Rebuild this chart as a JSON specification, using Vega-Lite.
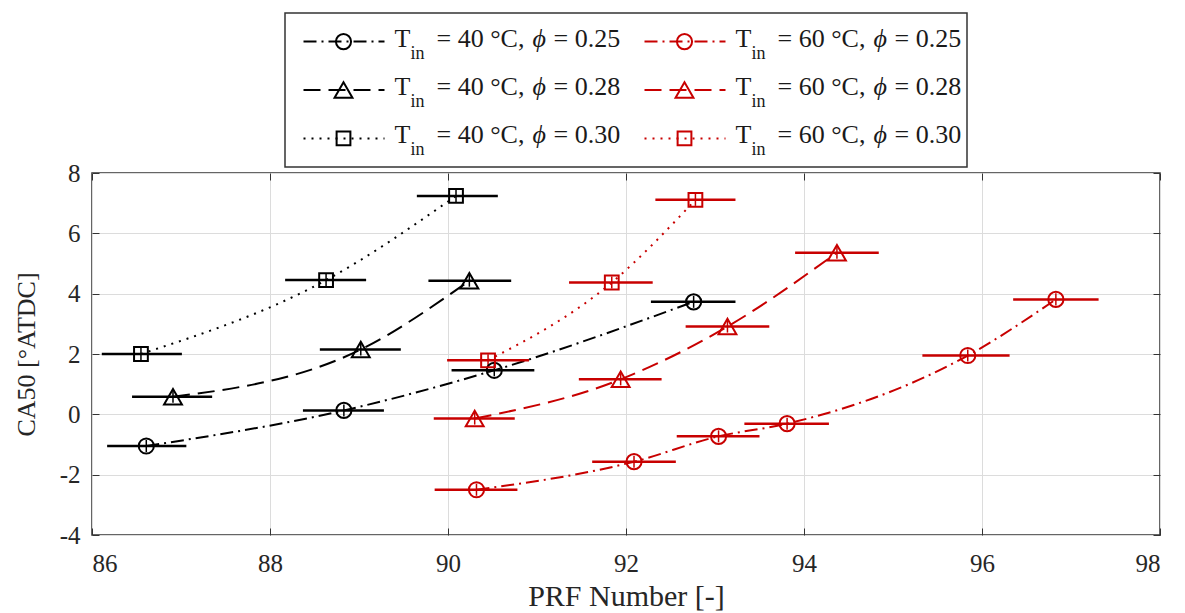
{
  "$schema": "https://vega.github.io/schema/vega-lite/v6.json",
  "padding": {"left": 12, "top": 12, "right": 8, "bottom": 2},
  "background": "white",
  "config": {
    "font": "Liberation Serif",
    "view": {"stroke": "#333333", "strokeWidth": 1.5},
    "axis": {"labelFont": "Liberation Serif", "titleFont": "Liberation Serif", "labelColor": "#262626", "titleColor": "#262626", "titleFontWeight": "normal"}
  },
  "datasets": {
    "pts": [
      {"series": "A", "T": "40", "phi": "0.25", "prf": 86.61, "ca50": -1.05, "lo": 86.17, "hi": 87.06, "ylo": -1.25, "yhi": -0.85},
      {"series": "A", "T": "40", "phi": "0.25", "prf": 88.83, "ca50": 0.13, "lo": 88.37, "hi": 89.28, "ylo": -0.07, "yhi": 0.33},
      {"series": "A", "T": "40", "phi": "0.25", "prf": 90.52, "ca50": 1.46, "lo": 90.04, "hi": 90.97, "ylo": 1.26, "yhi": 1.66},
      {"series": "A", "T": "40", "phi": "0.25", "prf": 92.76, "ca50": 3.73, "lo": 92.28, "hi": 93.23, "ylo": 3.53, "yhi": 3.93},
      {"series": "B", "T": "40", "phi": "0.28", "prf": 86.91, "ca50": 0.58, "lo": 86.45, "hi": 87.35, "ylo": 0.38, "yhi": 0.78},
      {"series": "B", "T": "40", "phi": "0.28", "prf": 89.02, "ca50": 2.15, "lo": 88.56, "hi": 89.47, "ylo": 1.95, "yhi": 2.35},
      {"series": "B", "T": "40", "phi": "0.28", "prf": 90.24, "ca50": 4.43, "lo": 89.78, "hi": 90.71, "ylo": 4.23, "yhi": 4.63},
      {"series": "C", "T": "40", "phi": "0.30", "prf": 86.55, "ca50": 2.0, "lo": 86.11, "hi": 87.01, "ylo": 1.8, "yhi": 2.2},
      {"series": "C", "T": "40", "phi": "0.30", "prf": 88.63, "ca50": 4.45, "lo": 88.17, "hi": 89.08, "ylo": 4.25, "yhi": 4.65},
      {"series": "C", "T": "40", "phi": "0.30", "prf": 90.09, "ca50": 7.24, "lo": 89.65, "hi": 90.56, "ylo": 7.04, "yhi": 7.44},
      {"series": "D", "T": "60", "phi": "0.25", "prf": 90.32, "ca50": -2.5, "lo": 89.85, "hi": 90.78, "ylo": -2.7, "yhi": -2.3},
      {"series": "D", "T": "60", "phi": "0.25", "prf": 92.09, "ca50": -1.57, "lo": 91.62, "hi": 92.56, "ylo": -1.77, "yhi": -1.37},
      {"series": "D", "T": "60", "phi": "0.25", "prf": 93.04, "ca50": -0.73, "lo": 92.57, "hi": 93.5, "ylo": -0.93, "yhi": -0.53},
      {"series": "D", "T": "60", "phi": "0.25", "prf": 93.81, "ca50": -0.31, "lo": 93.33, "hi": 94.28, "ylo": -0.51, "yhi": -0.11},
      {"series": "D", "T": "60", "phi": "0.25", "prf": 95.84, "ca50": 1.95, "lo": 95.33, "hi": 96.31, "ylo": 1.75, "yhi": 2.15},
      {"series": "D", "T": "60", "phi": "0.25", "prf": 96.83, "ca50": 3.81, "lo": 96.35, "hi": 97.31, "ylo": 3.61, "yhi": 4.01},
      {"series": "E", "T": "60", "phi": "0.28", "prf": 90.3, "ca50": -0.14, "lo": 89.84, "hi": 90.75, "ylo": -0.34, "yhi": 0.06},
      {"series": "E", "T": "60", "phi": "0.28", "prf": 91.94, "ca50": 1.16, "lo": 91.47, "hi": 92.4, "ylo": 0.96, "yhi": 1.36},
      {"series": "E", "T": "60", "phi": "0.28", "prf": 93.14, "ca50": 2.91, "lo": 92.67, "hi": 93.61, "ylo": 2.71, "yhi": 3.11},
      {"series": "E", "T": "60", "phi": "0.28", "prf": 94.37, "ca50": 5.36, "lo": 93.9, "hi": 94.84, "ylo": 5.16, "yhi": 5.56},
      {"series": "F", "T": "60", "phi": "0.30", "prf": 90.45, "ca50": 1.79, "lo": 89.99, "hi": 90.91, "ylo": 1.59, "yhi": 1.99},
      {"series": "F", "T": "60", "phi": "0.30", "prf": 91.84, "ca50": 4.37, "lo": 91.36, "hi": 92.3, "ylo": 4.17, "yhi": 4.57},
      {"series": "F", "T": "60", "phi": "0.30", "prf": 92.78, "ca50": 7.11, "lo": 92.33, "hi": 93.23, "ylo": 6.91, "yhi": 7.31}
    ],
    "leg": [
      {"T": "40", "phi": "0.25", "label1": "= 40 °C,", "label2": "= 0.25"},
      {"T": "40", "phi": "0.28", "label1": "= 40 °C,", "label2": "= 0.28"},
      {"T": "40", "phi": "0.30", "label1": "= 40 °C,", "label2": "= 0.30"},
      {"T": "60", "phi": "0.25", "label1": "= 60 °C,", "label2": "= 0.25"},
      {"T": "60", "phi": "0.28", "label1": "= 60 °C,", "label2": "= 0.28"},
      {"T": "60", "phi": "0.30", "label1": "= 60 °C,", "label2": "= 0.30"}
    ]
  },
  "bounds": "flush",
  "center": true,
  "spacing": 6,
  "resolve": {"scale": {"x": "independent", "y": "independent"}},
  "vconcat": [
    {
      "width": 682,
      "height": 154,
      "data": {"name": "leg"},
      "encoding": {
        "x": {"field": "T", "type": "nominal", "scale": {"type": "band", "domain": ["40", "60"], "paddingInner": 0, "paddingOuter": 0}, "axis": null},
        "y": {"field": "phi", "type": "nominal", "scale": {"type": "band", "domain": ["0.25", "0.28", "0.30"], "paddingInner": 0, "paddingOuter": 0.09}, "axis": null},
        "color": {"field": "T", "type": "nominal", "scale": {"domain": ["40", "60"], "range": ["#000000", "#c80000"]}, "legend": null}
      },
      "layer": [
        {
          "mark": {"type": "rule", "xOffset": -152, "x2Offset": -71, "strokeWidth": 2},
          "encoding": {
            "x2": {"field": "T"},
            "strokeDash": {"field": "phi", "type": "nominal", "scale": {"domain": ["0.25", "0.28", "0.30"], "range": [[13, 5, 2, 5], [17, 8], [2, 6]]}, "legend": null}
          }
        },
        {
          "transform": [{"filter": "datum.phi == '0.25'"}],
          "mark": {"type": "point", "shape": "circle", "size": 230, "xOffset": -112, "filled": false, "strokeWidth": 2, "opacity": 1}
        },
        {
          "transform": [{"filter": "datum.phi == '0.28'"}],
          "mark": {"type": "point", "shape": "triangle-up", "size": 320, "xOffset": -112, "filled": false, "strokeWidth": 2, "opacity": 1}
        },
        {
          "transform": [{"filter": "datum.phi == '0.30'"}],
          "mark": {"type": "point", "shape": "square", "size": 190, "xOffset": -112, "filled": false, "strokeWidth": 2, "opacity": 1}
        },
        {
          "mark": {"type": "text", "align": "left", "baseline": "alphabetic", "dx": -61, "dy": 5, "fontSize": 26, "color": "#1a1a1a"},
          "encoding": {"text": {"value": "T"}, "color": {"value": "#1a1a1a"}}
        },
        {
          "mark": {"type": "text", "align": "left", "baseline": "alphabetic", "dx": -45, "dy": 17, "fontSize": 18, "color": "#1a1a1a"},
          "encoding": {"text": {"value": "in"}, "color": {"value": "#1a1a1a"}}
        },
        {
          "mark": {"type": "text", "align": "left", "baseline": "alphabetic", "dx": -19, "dy": 5, "fontSize": 26, "color": "#1a1a1a"},
          "encoding": {"text": {"field": "label1"}, "color": {"value": "#1a1a1a"}}
        },
        {
          "mark": {"type": "text", "align": "left", "baseline": "alphabetic", "dx": 77, "dy": 5, "fontSize": 26, "fontStyle": "italic", "color": "#1a1a1a"},
          "encoding": {"text": {"value": "ϕ"}, "color": {"value": "#1a1a1a"}}
        },
        {
          "mark": {"type": "text", "align": "left", "baseline": "alphabetic", "dx": 98, "dy": 5, "fontSize": 26, "color": "#1a1a1a"},
          "encoding": {"text": {"field": "label2"}, "color": {"value": "#1a1a1a"}}
        }
      ]
    },
    {
      "width": 1068,
      "height": 362,
      "data": {"name": "pts"},
      "resolve": {"axis": {"x": "independent", "y": "independent"}},
      "layer": [
        {
          "mark": {"type": "line", "interpolate": "monotone", "strokeWidth": 2},
          "encoding": {
            "x": {"field": "prf", "type": "quantitative", "scale": {"domain": [86, 98], "nice": false, "zero": false},
                  "axis": {"values": [86, 88, 90, 92, 94, 96, 98], "grid": true, "gridColor": "#dcdcdc", "gridWidth": 1, "domain": false, "tickSize": -7, "tickColor": "#333333", "labelFont": "Liberation Serif", "labelFontSize": 25, "labelPadding": 23, "labelExpr": "'' + datum.value", "title": "PRF Number [-]", "titleFont": "Liberation Serif", "titleFontSize": 30, "titlePadding": 5}},
            "y": {"field": "ca50", "type": "quantitative", "scale": {"domain": [-4, 8], "nice": false, "zero": false},
                  "axis": {"values": [-4, -2, 0, 2, 4, 6, 8], "grid": true, "gridColor": "#dcdcdc", "gridWidth": 1, "domain": false, "tickSize": -7, "tickColor": "#333333", "labelFont": "Liberation Serif", "labelFontSize": 25, "labelPadding": 19, "labelExpr": "'' + datum.value", "title": "CA50 [°ATDC]", "titleFont": "Liberation Serif", "titleFontSize": 26, "titlePadding": 20}},
            "detail": {"field": "series"},
            "color": {"field": "T", "type": "nominal", "scale": {"domain": ["40", "60"], "range": ["#000000", "#c80000"]}, "legend": null},
            "strokeDash": {"field": "phi", "type": "nominal", "scale": {"domain": ["0.25", "0.28", "0.30"], "range": [[13, 5, 2, 5], [17, 8], [2, 6]]}, "legend": null}
          }
        },
        {
          "mark": {"type": "rule", "strokeWidth": 2.5},
          "encoding": {
            "x": {"field": "lo", "type": "quantitative", "axis": null},
            "x2": {"field": "hi"},
            "y": {"field": "ca50", "type": "quantitative", "axis": null},
            "color": {"field": "T", "type": "nominal", "legend": null}
          }
        },
        {
          "mark": {"type": "rule", "strokeWidth": 1.5},
          "encoding": {
            "x": {"field": "prf", "type": "quantitative", "axis": null},
            "y": {"field": "ylo", "type": "quantitative", "axis": null},
            "y2": {"field": "yhi"},
            "color": {"field": "T", "type": "nominal", "legend": null}
          }
        },
        {
          "transform": [{"filter": "datum.phi == '0.25'"}],
          "mark": {"type": "point", "shape": "circle", "size": 230, "filled": false, "strokeWidth": 2, "opacity": 1},
          "encoding": {
            "x": {"field": "prf", "type": "quantitative", "axis": null},
            "y": {"field": "ca50", "type": "quantitative", "axis": null},
            "color": {"field": "T", "type": "nominal", "legend": null}
          }
        },
        {
          "transform": [{"filter": "datum.phi == '0.28'"}],
          "mark": {"type": "point", "shape": "triangle-up", "size": 320, "filled": false, "strokeWidth": 2, "opacity": 1},
          "encoding": {
            "x": {"field": "prf", "type": "quantitative", "axis": null},
            "y": {"field": "ca50", "type": "quantitative", "axis": null},
            "color": {"field": "T", "type": "nominal", "legend": null}
          }
        },
        {
          "transform": [{"filter": "datum.phi == '0.30'"}],
          "mark": {"type": "point", "shape": "square", "size": 190, "filled": false, "strokeWidth": 2, "opacity": 1},
          "encoding": {
            "x": {"field": "prf", "type": "quantitative", "axis": null},
            "y": {"field": "ca50", "type": "quantitative", "axis": null},
            "color": {"field": "T", "type": "nominal", "legend": null}
          }
        },
        {
          "mark": {"type": "point", "opacity": 0},
          "encoding": {
            "x": {"field": "prf", "type": "quantitative", "axis": {"orient": "top", "values": [86, 88, 90, 92, 94, 96, 98], "labels": false, "grid": false, "domain": false, "tickSize": -7, "tickColor": "#333333", "title": null}},
            "y": {"field": "ca50", "type": "quantitative", "axis": {"orient": "right", "values": [-4, -2, 0, 2, 4, 6, 8], "labels": false, "grid": false, "domain": false, "tickSize": -7, "tickColor": "#333333", "title": null}}
          }
        }
      ]
    }
  ]
}
